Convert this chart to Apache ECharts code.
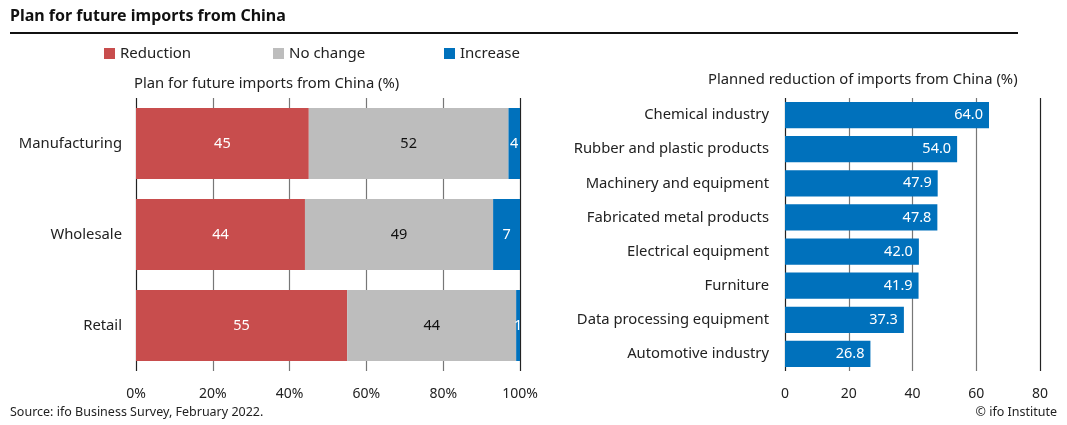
<!DOCTYPE html>
<html><head><meta charset="utf-8">
<script src="https://cdn.jsdelivr.net/npm/echarts@6/dist/echarts.min.js"></script>
<style>html,body{margin:0;padding:0;background:#fff}#c{width:1067px;height:425px}</style>
</head><body><div id="c"></div>
<script>
const sectors = ['Manufacturing', 'Wholesale', 'Retail'];
const reduction = [45, 44, 55];
const noChange = [52, 49, 44];
const increase = [4, 7, 1];
const industries = ['Chemical industry', 'Rubber and plastic products', 'Machinery and equipment', 'Fabricated metal products', 'Electrical equipment', 'Furniture', 'Data processing equipment', 'Automotive industry'];
const plannedReduction = [64.0, 54.0, 47.9, 47.8, 42.0, 41.9, 37.3, 26.8];
const leftTicks = [0, 20, 40, 60, 80, 100];
const rightTicks = [0, 20, 40, 60, 80];
const legendNames = ['Reduction', 'No change', 'Increase'];

const FONT = 'Noto Sans';
const RED = '#C84D4D', GRAY = '#BDBDBD', BLUE = '#0071BC';
const chart = echarts.init(document.getElementById('c'));
const gridLine = { show: true, lineStyle: { color: ['#222', '#777', '#777', '#777', '#777', '#222'], width: 1.2 } };
const gridLineR = { show: true, lineStyle: { color: ['#222', '#777', '#777', '#777', '#222'], width: 1.2 } };
const legendLeft = [99, 268, 439];
chart.setOption({
  animation: false,
  textStyle: { fontFamily: FONT },
  graphic: [
    { type: 'text', left: 10, top: 8, style: { text: 'Plan for future imports from China', font: 'bold 16px "Noto Sans"', fill: '#111' } },
    { type: 'rect', shape: { x: 10, y: 32, width: 1008, height: 2 }, style: { fill: '#111' } },
    { type: 'text', left: 134, top: 76, style: { text: 'Plan for future imports from China (%)', font: '14.8px "Noto Sans"', fill: '#222' } },
    { type: 'text', left: 708, top: 72, style: { text: 'Planned reduction of imports from China (%)', font: '14.8px "Noto Sans"', fill: '#222' } },
    { type: 'text', left: 10, top: 406, style: { text: 'Source: ifo Business Survey, February 2022.', font: '12.5px "Noto Sans"', fill: '#222' } },
    { type: 'text', right: 10, top: 406, style: { text: '\u00a9 ifo Institute', font: '12.5px "Noto Sans"', fill: '#222' } }
  ],
  legend: legendNames.map((n, i) => ({
    left: legendLeft[i], top: 41, icon: 'rect', itemWidth: 11, itemHeight: 11, itemGap: 4,
    data: [n], selectedMode: false,
    textStyle: { fontFamily: FONT, fontSize: 15, color: '#222' }
  })),
  grid: [
    { left: 136, right: 547, top: 98, bottom: 54 },
    { left: 785, right: 27, top: 98, bottom: 54 }
  ],
  xAxis: [
    { gridIndex: 0, type: 'value', min: 0, max: 100, interval: 20, axisLine: { show: false }, axisTick: { show: false }, splitLine: gridLine,
      axisLabel: { formatter: '{value}%', margin: 16, color: '#222', fontSize: 14, fontFamily: FONT } },
    { gridIndex: 1, type: 'value', min: 0, max: 80, interval: 20, axisLine: { show: false }, axisTick: { show: false }, splitLine: gridLineR,
      axisLabel: { margin: 16, color: '#222', fontSize: 14, fontFamily: FONT } }
  ],
  yAxis: [
    { gridIndex: 0, type: 'category', data: sectors, inverse: true, axisLine: { show: false }, axisTick: { show: false },
      axisLabel: { margin: 14, color: '#222', fontSize: 14.8, fontFamily: FONT } },
    { gridIndex: 1, type: 'category', data: industries, inverse: true, axisLine: { show: false }, axisTick: { show: false },
      axisLabel: { margin: 16, color: '#222', fontSize: 14.8, fontFamily: FONT } }
  ],
  series: [
    { name: 'Reduction', type: 'bar', stack: 's', xAxisIndex: 0, yAxisIndex: 0, data: reduction, barWidth: '78%', itemStyle: { color: RED },
      label: { show: true, position: 'inside', color: '#fff', fontSize: 14.5, fontFamily: FONT } },
    { name: 'No change', type: 'bar', stack: 's', xAxisIndex: 0, yAxisIndex: 0, data: noChange, itemStyle: { color: GRAY },
      label: { show: true, position: 'inside', color: '#111', fontSize: 14.5, fontFamily: FONT } },
    { name: 'Increase', type: 'bar', stack: 's', xAxisIndex: 0, yAxisIndex: 0, data: increase, itemStyle: { color: BLUE },
      label: { show: true, position: 'inside', color: '#fff', fontSize: 14.5, fontFamily: FONT } },
    { name: 'Planned reduction', type: 'bar', xAxisIndex: 1, yAxisIndex: 1, data: plannedReduction, barWidth: '77%', itemStyle: { color: BLUE },
      label: { show: true, position: 'insideRight', distance: 6, color: '#fff', fontSize: 14.5, fontFamily: FONT, formatter: p => p.value.toFixed(1) } }
  ]
});
</script></body></html>
